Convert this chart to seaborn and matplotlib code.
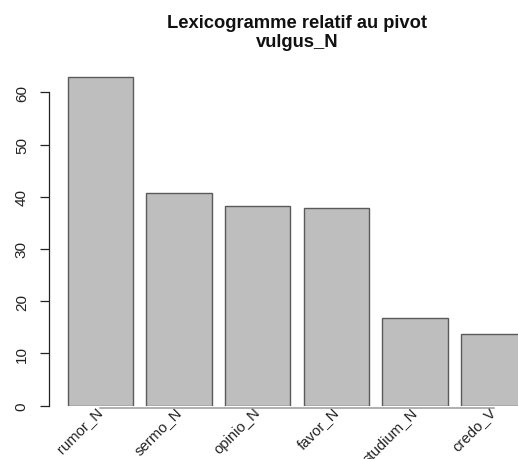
import pandas as pd
import seaborn as sns
import matplotlib.pyplot as plt

# values
words = ["rumor_N", "sermo_N", "opinio_N", "favor_N", "studium_N", "credo_V"]
scores = [63.0, 40.8, 38.3, 37.8, 16.8, 13.8]
y_ticks = [0, 10, 20, 30, 40, 50, 60]

df = pd.DataFrame({"word": words, "score": scores})

sns.set_style("white")
plt.rcParams["font.family"] = ["Liberation Sans", "DejaVu Sans"]

fig = plt.figure(figsize=(5.18, 4.6), dpi=100)
ax = fig.add_axes([49 / 518, 0.1159, 1 - 49 / 518, 0.7494])

sns.barplot(data=df, x="word", y="score", order=words, color="#bebebe",
            saturation=1, edgecolor="#5a5a5a", linewidth=1.0, width=0.833, ax=ax)

ax.set_xlim(-0.655, 5.31)
ax.set_ylim(0, 66)
ax.set_xlabel("")
ax.set_ylabel("")

# R style axes
for side in ["top", "right"]:
    ax.spines[side].set_visible(False)
ax.spines["left"].set_bounds(0, 60)
ax.spines["left"].set_color("#222222")
ax.spines["left"].set_linewidth(0.9)
ax.spines["bottom"].set_bounds(0, len(words) - 1)
ax.spines["bottom"].set_color("#9a9a9a")
ax.spines["bottom"].set_position(("outward", 2))
ax.spines["bottom"].set_linewidth(1.1)

ax.set_yticks(y_ticks)
ax.set_yticklabels([str(t) for t in y_ticks])
ax.tick_params(axis="y", direction="out", length=6.5, width=0.9, color="#222222",
               pad=8, labelsize=11, labelcolor="#222222", left=True)
for lab in ax.get_yticklabels():
    lab.set_rotation(90)
    lab.set_va("center")
    lab.set_ha("right")

ax.set_xticks(range(len(words)))
ax.set_xticklabels(words, rotation=45, ha="right", va="center",
                   rotation_mode="anchor")
ax.tick_params(axis="x", length=0, pad=0.5, labelsize=10.7, labelcolor="#222222")
for lab in ax.get_xticklabels():
    lab.set_clip_on(False)

fig.text(297 / 518, 1 - 33 / 460, "Lexicogramme relatif au pivot\nvulgus_N",
         ha="center", va="center", fontsize=13.2, fontweight="bold",
         linespacing=1.15, color="#111111")

fig.savefig("out.png", dpi=100)
